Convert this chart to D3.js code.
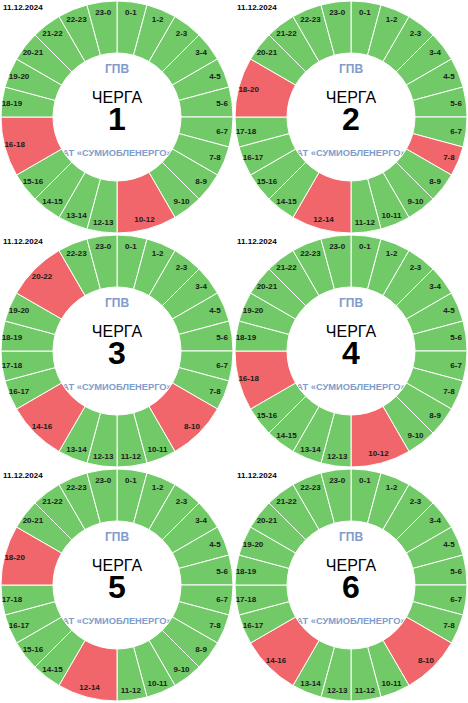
<!DOCTYPE html>
<html>
<head>
<meta charset="utf-8">
<script src="https://cdn.jsdelivr.net/npm/d3@7"></script>
<style>
  body { margin: 0; background: #fff; }
  svg { display: block; font-family: "Liberation Sans", Arial, sans-serif; }
</style>
</head>
<body>
<svg></svg>
<script>
const width = 468;
const height = 703;
const panel = 234;

const colors = { on: "#72c968", off: "#f0666a" };

// Data
const date = "11.12.2024";
const queues = [1, 2, 3, 4, 5, 6];
const hours = [
  "0-1", "1-2", "2-3", "3-4", "4-5", "5-6", "6-7", "7-8",
  "8-9", "9-10", "10-11", "11-12", "12-13", "13-14", "14-15", "15-16",
  "16-17", "17-18", "18-19", "19-20", "20-21", "21-22", "22-23", "23-0"
];
// outage intervals [start, end) per queue
const outages1 = [[10, 12], [16, 18]];
const outages2 = [[7, 8], [12, 14], [18, 20]];
const outages3 = [[8, 10], [14, 16], [20, 22]];
const outages4 = [[10, 12], [16, 18]];
const outages5 = [[12, 14], [18, 20]];
const outages6 = [[8, 10], [14, 16]];
const outages = [outages1, outages2, outages3, outages4, outages5, outages6];

const svg = d3.select("svg").attr("width", width).attr("height", height);

// Turn hours + outages into pie segments (outage blocks are merged)
function buildSegments(list) {
  const segs = [];
  let h = 0;
  while (h < hours.length) {
    const block = list.find((o) => o[0] === h);
    if (block) {
      segs.push({ label: block[0] + "-" + block[1], value: block[1] - block[0], off: true });
      h = block[1];
    } else {
      segs.push({ label: hours[h], value: 1, off: false });
      h++;
    }
  }
  return segs;
}

const pie = d3.pie().sort(null).value((d) => d.value);
const arc = d3.arc().innerRadius(64).outerRadius(116);
const labelArc = d3.arc().innerRadius(106).outerRadius(106);

queues.forEach((q, i) => {
  const col = i % 2;
  const row = Math.floor(i / 2);
  const g = svg.append("g").attr("transform", `translate(${col * panel},${row * panel})`);
  const c = g.append("g").attr("transform", "translate(117,117)");

  // company name sits under the ring, so its ends are hidden
  c.append("text")
    .attr("y", 39)
    .attr("text-anchor", "middle")
    .style("font-size", "9.3px")
    .style("font-weight", "bold")
    .attr("fill", "#7f9cca")
    .text("АТ «СУМИОБЛЕНЕРГО»");

  const arcs = c.selectAll(".slice")
    .data(pie(buildSegments(outages[i])))
    .join("g")
    .attr("class", "slice");

  arcs.append("path")
    .attr("d", arc)
    .attr("fill", (d) => (d.data.off ? colors.off : colors.on))
    .attr("stroke", "#fff")
    .attr("stroke-width", 1);

  arcs.append("text")
    .attr("transform", (d) => `translate(${labelArc.centroid(d)})`)
    .attr("dy", "0.35em")
    .attr("text-anchor", "middle")
    .style("font-size", "8px")
    .style("font-weight", "bold")
    .attr("fill", "#1a1a1a")
    .text((d) => d.data.label);

  c.append("text")
    .attr("y", -44)
    .attr("text-anchor", "middle")
    .style("font-size", "12px")
    .style("font-weight", "bold")
    .attr("fill", "#7f9cca")
    .text("ГПВ");

  // title block: "ЧЕРГА" with the queue number under it
  const title = c.append("text")
    .attr("text-anchor", "middle")
    .attr("fill", "#000");
  title.append("tspan")
    .attr("x", 0)
    .attr("y", -14)
    .style("font-size", "16px")
    .text("ЧЕРГА");
  title.append("tspan")
    .attr("x", 0)
    .attr("y", 13)
    .style("font-size", "32px")
    .style("font-weight", "bold")
    .text(q);

  // date in the corner
  g.append("text")
    .attr("x", 3)
    .attr("y", 10)
    .style("font-size", "8px")
    .style("font-weight", "bold")
    .attr("fill", "#000")
    .text(date);
});
</script>
</body>
</html>
